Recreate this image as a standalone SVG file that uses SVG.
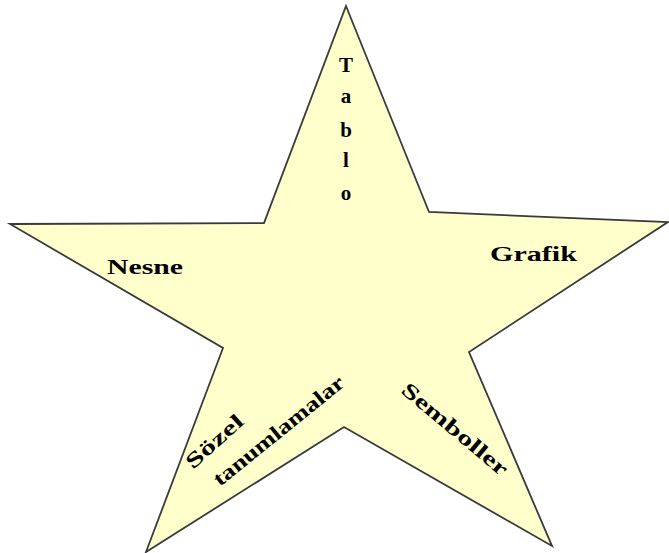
<svg xmlns="http://www.w3.org/2000/svg" width="669" height="553" viewBox="0 0 669 553">
<style>
.lbl{font-family:"Liberation Serif","Times New Roman",serif;font-weight:bold;font-size:21px;fill:#000}
</style>
<rect width="669" height="553" fill="#fff"/>
<g id="star">
<polygon points="346,6 429,212 668,222 469,352 552,546 344,427 146,552 223,348 10,224 264,223" fill="#ffffcc" stroke="#3a3a3a" stroke-width="1.8" stroke-linejoin="miter"/>
</g>
<g id="tablo">
<text class="lbl" x="346" y="72" text-anchor="middle">T</text>
<text class="lbl" x="346" y="103" text-anchor="middle">a</text>
<text class="lbl" x="346" y="137" text-anchor="middle">b</text>
<text class="lbl" x="346" y="167" text-anchor="middle">l</text>
<text class="lbl" x="346" y="200" text-anchor="middle">o</text>
</g>
<g id="nesne"><text class="lbl" x="107" y="274" textLength="76" lengthAdjust="spacingAndGlyphs">Nesne</text></g>
<g id="grafik"><text class="lbl" x="490" y="261" textLength="87" lengthAdjust="spacingAndGlyphs">Grafik</text></g>
<g id="sozel"><text class="lbl" transform="translate(193,470) rotate(-42)" textLength="70" lengthAdjust="spacingAndGlyphs">Sözel</text></g>
<g id="tanimlamalar"><text class="lbl" transform="translate(220,487) rotate(-39)" textLength="162" lengthAdjust="spacingAndGlyphs">tanumlamalar</text></g>
<g id="semboller"><text class="lbl" transform="translate(400,392) rotate(40)" textLength="132" lengthAdjust="spacingAndGlyphs">Semboller</text></g>
</svg>
